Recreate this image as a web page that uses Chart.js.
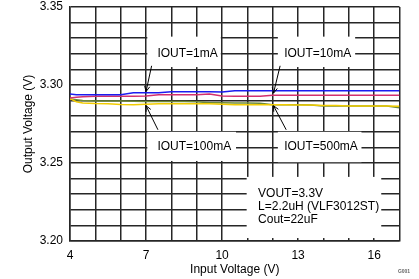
<!DOCTYPE html>
<html>
<head>
<meta charset="utf-8">
<script src="https://cdn.jsdelivr.net/npm/chart.js@4/dist/chart.umd.min.js"></script>
<style>
  html, body { margin: 0; padding: 0; background: #fff; }
  #wrap { width: 419px; height: 279px; }
</style>
</head>
<body>
<div id="wrap"><canvas id="lineChart" width="419" height="279"></canvas></div>
<script>
// input voltage (V)
var vin = [4, 4.25, 4.5, 5, 5.5, 6, 6.5, 7, 7.5, 8, 8.5, 9, 9.5, 10, 10.5, 11, 11.5, 12, 12.5, 13, 13.5, 14, 14.5, 15, 15.5, 16, 16.5, 17];

// output voltage (V) per load current
var iout1mA = [3.2943, 3.2938, 3.2937, 3.2937, 3.2937, 3.2937, 3.2950, 3.2950, 3.2951, 3.2956, 3.2956, 3.2956, 3.2956, 3.2955,
  3.2963, 3.2963, 3.2963, 3.2963, 3.2963, 3.2963, 3.2963, 3.2963, 3.2963, 3.2963, 3.2963, 3.2963, 3.2963, 3.2963];
var iout10mA = [3.2917, 3.2922, 3.2925, 3.2928, 3.2928, 3.2928, 3.2928, 3.2929, 3.2937, 3.2937, 3.2937, 3.2937, 3.2943, 3.2929,
  3.2928, 3.2928, 3.2928, 3.2935, 3.2934, 3.2934, 3.2934, 3.2934, 3.2934, 3.2934, 3.2934, 3.2934, 3.2934, 3.2934];
var iout100mA = [3.2910, 3.2905, 3.2900, 3.2898, 3.2897, 3.2897, 3.2896, 3.2895, 3.2895, 3.2894, 3.2894, 3.2893, 3.2887, 3.2886,
  3.2885, 3.2885, 3.2883, 3.2874, 3.2874, 3.2874, 3.2872, 3.2866, 3.2866, 3.2866, 3.2866, 3.2866, 3.2865, 3.2854];
var iout500mA = [3.2913, 3.2893, 3.2885, 3.2881, 3.2880, 3.2875, 3.2874, 3.2877, 3.2880, 3.2880, 3.2880, 3.2880, 3.2880, 3.2876,
  3.2873, 3.2873, 3.2873, 3.2873, 3.2873, 3.2872, 3.2871, 3.2869, 3.2869, 3.2866, 3.2866, 3.2865, 3.2865, 3.2864];

var xTickLabels = [4, 7, 10, 13, 16];
var yTickLabels = [3.20, 3.25, 3.30, 3.35];

var FONT = "Arial, 'Liberation Sans', sans-serif";
var GRID = '#262626';

function toPoints(ys) {
  return vin.map(function (x, i) { return {x: x, y: ys[i]}; });
}

// label boxes in data units
var notes = [
  {box: [7.05, 9.95, 3.331, 3.3115], tx: 7.45, ty: [3.320], text: ['IOUT=1mA']},
  {box: [12.2, 15.25, 3.331, 3.3115], tx: 12.45, ty: [3.320], text: ['IOUT=10mA']},
  {box: [7.05, 10.55, 3.270, 3.2513], tx: 7.45, ty: [3.2603], text: ['IOUT=100mA']},
  {box: [12.2, 15.5, 3.270, 3.2505], tx: 12.45, ty: [3.2603], text: ['IOUT=500mA']},
  {box: [10.97, 16.28, 3.2411, 3.2019], tx: 11.42, ty: [3.2302, 3.2218, 3.2139],
    text: ['VOUT=3.3V', 'L=2.2uH (VLF3012ST)', 'Cout=22uF']}
];
var arrows = [
  [7.22, 3.3123, 7.0, 3.2958],
  [12.29, 3.3123, 12.03, 3.2948],
  [7.47, 3.2713, 7.0, 3.2867],
  [12.53, 3.2713, 12.03, 3.2867]
];

var notePlugin = {
  id: 'notes',
  beforeDatasetsDraw: function (chart) {
    var c = chart.ctx, sx = chart.scales.x, sy = chart.scales.y;
    c.save();
    notes.forEach(function (n) {
      var x0 = sx.getPixelForValue(n.box[0]), x1 = sx.getPixelForValue(n.box[1]);
      var y0 = sy.getPixelForValue(n.box[2]), y1 = sy.getPixelForValue(n.box[3]);
      c.fillStyle = '#fff';
      c.fillRect(x0, y0, x1 - x0, y1 - y0);
      c.fillStyle = '#000';
      c.font = '12px ' + FONT;
      c.textAlign = 'left';
      c.textBaseline = 'middle';
      n.text.forEach(function (t, i) {
        c.fillText(t, sx.getPixelForValue(n.tx), sy.getPixelForValue(n.ty[i]));
      });
    });
    c.restore();
  },
  afterDatasetsDraw: function (chart) {
    var c = chart.ctx, sx = chart.scales.x, sy = chart.scales.y;
    c.save();
    c.strokeStyle = '#000';
    c.lineWidth = 1;
    arrows.forEach(function (a) {
      var x0 = sx.getPixelForValue(a[0]), y0 = sy.getPixelForValue(a[1]);
      var x1 = sx.getPixelForValue(a[2]), y1 = sy.getPixelForValue(a[3]);
      var ang = Math.atan2(y1 - y0, x1 - x0);
      c.beginPath();
      c.moveTo(x0, y0);
      c.lineTo(x1, y1);
      c.moveTo(x1 - 6 * Math.cos(ang - 0.45), y1 - 6 * Math.sin(ang - 0.45));
      c.lineTo(x1, y1);
      c.lineTo(x1 - 6 * Math.cos(ang + 0.45), y1 - 6 * Math.sin(ang + 0.45));
      c.stroke();
    });
    c.restore();
  },
  afterDraw: function (chart) {
    var c = chart.ctx;
    c.save();
    c.fillStyle = '#666';
    c.font = 'bold 5px ' + FONT;
    c.textAlign = 'center';
    c.textBaseline = 'middle';
    c.fillText('G001', 404, 272);
    c.restore();
  }
};

function lineSet(label, data, color) {
  return {
    label: label,
    data: toPoints(data),
    borderColor: color,
    borderWidth: 1.5,
    pointRadius: 0,
    tension: 0,
    fill: false
  };
}

var ctx = document.getElementById('lineChart');
var lineChart = new Chart(ctx, {
  type: 'line',
  data: {
    datasets: [
      lineSet('IOUT=1mA', iout1mA, '#1c1cf0'),
      lineSet('IOUT=10mA', iout10mA, '#d3306f'),
      lineSet('IOUT=500mA', iout500mA, '#f2cc00'),
      lineSet('IOUT=100mA', iout100mA, '#6f8a3a')
    ]
  },
  plugins: [notePlugin],
  options: {
    responsive: false,
    animation: false,
    layout: {padding: {top: 7, right: 19.5, left: 0, bottom: 0}},
    plugins: {
      legend: {display: false},
      tooltip: {enabled: false}
    },
    scales: {
      x: {
        type: 'linear',
        min: 4,
        max: 17,
        afterFit: function (scale) {
          scale.height = 38;
          scale.paddingLeft = 0;
          scale.paddingRight = 0;
        },
        grid: {color: GRID, lineWidth: 1.5, drawTicks: false},
        border: {color: GRID, width: 1.5},
        ticks: {
          stepSize: 1,
          autoSkip: false,
          maxRotation: 0,
          padding: 7,
          color: '#000',
          font: {family: FONT, size: 12},
          callback: function (v) {
            return xTickLabels.indexOf(v) >= 0 ? String(v) : '';
          }
        },
        title: {
          display: true,
          text: 'Input Voltage (V)',
          color: '#000',
          font: {family: FONT, size: 12},
          padding: {top: 0, bottom: 2}
        }
      },
      y: {
        min: 3.20,
        max: 3.35,
        afterFit: function (scale) {
          scale.width = 70;
          scale.paddingTop = 0;
          scale.paddingBottom = 0;
        },
        grid: {color: GRID, lineWidth: 1.5, drawTicks: false},
        border: {color: GRID, width: 1.5},
        ticks: {
          stepSize: 0.01,
          autoSkip: false,
          padding: 7,
          color: '#000',
          font: {family: FONT, size: 12},
          callback: function (v) {
            for (var i = 0; i < yTickLabels.length; i++) {
              if (Math.abs(v - yTickLabels[i]) < 1e-6) return yTickLabels[i].toFixed(2);
            }
            return '';
          }
        },
        title: {
          display: true,
          text: 'Output Voltage (V)',
          color: '#000',
          font: {family: FONT, size: 12},
          padding: {top: 21, bottom: 0}
        }
      }
    }
  }
});
</script>
</body>
</html>
